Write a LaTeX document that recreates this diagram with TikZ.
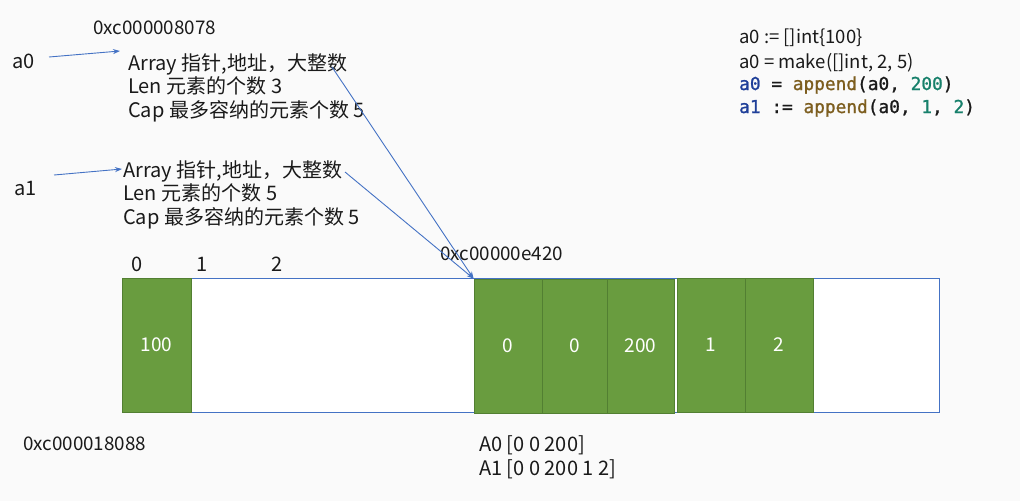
\documentclass[tikz,border=0pt]{standalone}
\usepackage{fontspec}
\setmainfont{Noto Sans CJK SC}
\newfontfamily\codefont[FakeBold=1.2]{DejaVu Sans Mono}
\usetikzlibrary{arrows.meta}
\definecolor{bg}{HTML}{FAFAFA}
\definecolor{cellgreen}{HTML}{699C3F}
\definecolor{celledge}{HTML}{527F32}
\definecolor{lineblue}{HTML}{4472C4}
\definecolor{codeblue}{HTML}{1F3F99}
\definecolor{codebrown}{HTML}{7D5E1F}
\definecolor{codeteal}{HTML}{17806B}
\definecolor{txt}{HTML}{1A1A1A}
\tikzset{
  lbl/.style={inner sep=0pt, anchor=base west, text=txt, font=\fontsize{20}{24}\selectfont},
  addr/.style={lbl, font=\fontsize{18.8}{23}\selectfont},
  codeln/.style={inner sep=0pt, anchor=base west, text=txt},
  cell/.style={draw=celledge, fill=cellgreen, line width=0.8pt, text=white,
     font=\fontsize{19}{23}\selectfont},
  ptr/.style={draw=lineblue, line width=0.9pt, -{Stealth[length=7pt,width=5pt]}},
}
\begin{document}
\begin{tikzpicture}[x=1pt,y=-1pt]
\fill[bg] (0,0) rectangle (1020,501);
\useasboundingbox (0,0) rectangle (1020,501);

% addresses and variable names
\node[addr] (addr0) at (93,34) {0xc000008078};
\node[lbl] (a0) at (12,68) {a0};
\node[lbl] (a1) at (14,195) {a1};

% header a0
\node[lbl] (h0arr) at (128,70) {Array 指针,地址，大整数};
\node[lbl] (h0len) at (128,93) {Len 元素的个数 3};
\node[lbl] (h0cap) at (128,117) {Cap 最多容纳的元素个数 5};

% header a1
\node[lbl] (h1arr) at (123,177) {Array 指针,地址，大整数};
\node[lbl] (h1len) at (123,200) {Len 元素的个数 5};
\node[lbl] (h1cap) at (123,224) {Cap 最多容纳的元素个数 5};

% code
\node[codeln,font=\fontsize{18.5}{22}\selectfont] (c1) at (739,43) {a0 := []int\{100\}};
\node[codeln,font=\fontsize{18.5}{22}\selectfont] (c2) at (739,68) {a0 = make([]int, 2, 5)};
\node[codeln,font=\codefont\fontsize{17.8}{21}\selectfont] (c3) at (739,90)
  {\textcolor{codeblue}{a0} = \textcolor{codebrown}{append}(a0, \textcolor{codeteal}{200})};
\node[codeln,font=\codefont\fontsize{17.8}{21}\selectfont] (c4) at (739,113)
  {\textcolor{codeblue}{a1} := \textcolor{codebrown}{append}(a0, \textcolor{codeteal}{1}, \textcolor{codeteal}{2})};

% indices and addresses near array
\node[lbl] (i0) at (131,271) {0};
\node[lbl] (i1) at (196,271) {1};
\node[lbl] (i2) at (271,271) {2};
\node[addr] (addr1) at (440,260) {0xc00000e420};
\node[addr] (addr2) at (23,450) {0xc000018088};
\node[lbl] (A0) at (479,451) {A0 [0 0 200]};
\node[lbl] (A1) at (479,475) {A1 [0 0 200 1 2]};

% memory
\draw[lineblue, line width=0.9pt, fill=white] (122,278) rectangle (939,412);
\node[cell, minimum width=69pt, minimum height=134pt, inner sep=0pt] (m100) at (156.5,345) {100};
\node[cell, minimum width=68pt, minimum height=134pt, inner sep=0pt] (n0) at (508,346) {0};
\node[cell, minimum width=65pt, minimum height=134pt, inner sep=0pt] (n1) at (574.5,346) {0};
\node[cell, minimum width=67pt, minimum height=134pt, inner sep=0pt] (n2) at (640.5,346) {200};
\node[cell, minimum width=68pt, minimum height=134pt, inner sep=0pt] (n3) at (711,345) {1};
\node[cell, minimum width=68pt, minimum height=134pt, inner sep=0pt] (n4) at (779,345) {2};

% pointers
\coordinate (a0s) at (49,57);
\coordinate (a0e) at (120,51);
\coordinate (a1s) at (54,175);
\coordinate (a1e) at (122,169);
\coordinate (p0s) at (332,67);
\coordinate (p1s) at (345,172);
\draw[ptr] (a0s) -- (a0e);
\draw[ptr] (a1s) -- (a1e);
\draw[ptr] (p0s) -- (n0.north west);
\draw[ptr] (p1s) -- (n0.north west);
\end{tikzpicture}
\end{document}
